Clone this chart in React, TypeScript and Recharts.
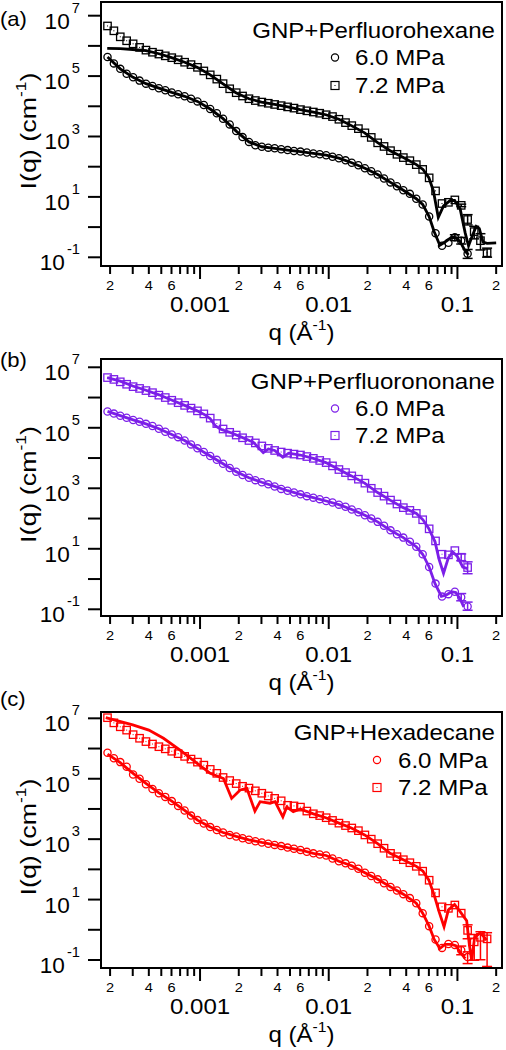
import type { ReactNode } from 'react';
import { ComposedChart, Scatter, Line, XAxis, YAxis, ErrorBar } from 'recharts';

type Pair = [number, number];

const FONT = '"Liberation Sans", Arial, Helvetica, sans-serif';
const BLACK = '#000000';
const PURPLE = '#7c1fe8';
const RED = '#ff0000';

const X_DOMAIN: Pair = [1.7e-4, 0.222];

// q grid of the measured points (1/Å)
const qGrid = [
  1.91e-4, 2.14e-4, 2.4e-4, 2.69e-4, 3.02e-4, 3.39e-4, 3.8e-4, 4.27e-4, 4.79e-4, 5.37e-4,
  6.03e-4, 6.76e-4, 7.59e-4, 8.51e-4, 9.55e-4, 1.07e-3, 1.2e-3, 1.35e-3, 1.51e-3, 1.7e-3,
  1.91e-3, 2.14e-3, 2.4e-3, 2.69e-3, 3.02e-3, 3.39e-3, 3.8e-3, 4.27e-3, 4.79e-3, 5.37e-3,
  6.03e-3, 6.76e-3, 7.59e-3, 8.51e-3, 9.55e-3, 0.0107, 0.012, 0.0135, 0.0151, 0.017,
  0.0191, 0.0214, 0.024, 0.0269, 0.0302, 0.0339, 0.038, 0.0427, 0.0479, 0.0537,
  0.0603, 0.0676, 0.0759, 0.0851, 0.0955, 0.107, 0.12, 0.135, 0.151, 0.17,
];

const xTicks = [
  2e-4, 3e-4, 4e-4, 5e-4, 6e-4, 7e-4, 8e-4, 9e-4, 1e-3,
  2e-3, 3e-3, 4e-3, 5e-3, 6e-3, 7e-3, 8e-3, 9e-3, 0.01,
  0.02, 0.03, 0.04, 0.05, 0.06, 0.07, 0.08, 0.09, 0.1, 0.2,
];
const xTickLabels = [
  '2', '', '4', '', '6', '', '', '', '0.001',
  '2', '', '4', '', '6', '', '', '', '0.01',
  '2', '', '4', '', '6', '', '', '', '0.1', '2',
];
const yTicks = [0.1, 1, 10, 100, 1e3, 1e4, 1e5, 1e6, 1e7];
const yTickExp = ['-1', '', '1', '', '3', '', '5', '', '7'];

// (a) GNP + perfluorohexane
const iA60 = [
  4.27e5, 2.63e5, 1.74e5, 1.2e5, 9.12e4, 7.08e4, 5.62e4, 4.68e4, 3.98e4, 3.39e4,
  2.88e4, 2.51e4, 2.14e4, 1.78e4, 1.45e4, 1.1e4, 8.13e3, 5.89e3, 3.89e3, 2.51e3,
  1.51e3, 955, 661, 513, 457, 427, 407, 380, 355, 331,
  316, 295, 275, 257, 240, 214, 191, 162, 135, 112,
  89.1, 70.8, 55.0, 40.7, 30.2, 22.4, 16.6, 12.6, 8.71, 5.62,
  2.24, 0.631, 0.24, 0.302, 0.457, 0.355, 0.132,
];
const errA60: Pair[] = [[0.1, 0.1], [0.08, 0.1], [0.04, 0.05]];
const iA72 = [
  4.57e6, 3.16e6, 2.0e6, 1.48e6, 1.17e6, 8.91e5, 7.24e5, 6.17e5, 5.37e5, 4.68e5,
  4.07e5, 3.47e5, 2.88e5, 2.4e5, 1.95e5, 1.48e5, 1.1e5, 7.94e4, 5.62e4, 3.8e4,
  2.82e4, 2.19e4, 1.78e4, 1.55e4, 1.38e4, 1.26e4, 1.15e4, 1.05e4, 9.55e3, 8.71e3,
  7.76e3, 7.08e3, 6.46e3, 5.89e3, 5.25e3, 4.57e3, 3.72e3, 2.88e3, 2.29e3, 1.82e3,
  1.32e3, 933, 617, 468, 339, 257, 200, 158, 117, 81.3,
  42.7, 15.8, 6.03, 6.61, 7.94, 5.25, 1.78, 0.708, 0.355, 0.141,
];
const errA72: Pair[] = [[0.5, 0.5], [0.6, 0.8], [0.3, 0.35], [0.18, 0.25], [0.04, 0.06]];
const fitA60: Pair[] = [
  [1.91e-4, 4.27e5], [2.4e-4, 1.74e5], [3.02e-4, 9.12e4], [3.8e-4, 5.62e4], [4.79e-4, 3.98e4],
  [6.03e-4, 2.88e4], [7.59e-4, 2.14e4], [9.55e-4, 1.45e4], [1.2e-3, 8.13e3], [1.51e-3, 3.89e3],
  [1.91e-3, 1.51e3], [2.4e-3, 661], [3.02e-3, 457], [3.8e-3, 407], [4.79e-3, 355],
  [6.03e-3, 316], [7.59e-3, 275], [9.55e-3, 240], [0.012, 191], [0.0151, 135],
  [0.0191, 89.1], [0.024, 55], [0.0302, 30.2], [0.038, 16.6], [0.0479, 8.71],
  [0.0537, 5.62], [0.0603, 2.24], [0.066, 0.7], [0.073, 0.25], [0.08, 0.32],
  [0.09, 0.46], [0.097, 0.45], [0.105, 0.33], [0.115, 0.16], [0.122, 0.12],
];
const fitA72: Pair[] = [
  [1.9e-4, 8.32e5], [2.4e-4, 8.13e5], [3.0e-4, 7.59e5], [3.8e-4, 6.92e5], [4.8e-4, 5.5e5],
  [6.0e-4, 4.07e5], [7.6e-4, 2.88e5], [9.5e-4, 1.95e5], [1.2e-3, 1.1e5], [1.5e-3, 5.62e4],
  [1.9e-3, 2.82e4], [2.4e-3, 1.78e4], [3.0e-3, 1.38e4], [3.8e-3, 1.15e4], [4.8e-3, 9.55e3],
  [6.0e-3, 7.76e3], [7.6e-3, 6.46e3], [9.5e-3, 5.25e3], [0.012, 3.72e3], [0.015, 2.29e3],
  [0.019, 1.32e3], [0.024, 630], [0.03, 339], [0.038, 200], [0.048, 117],
  [0.054, 81], [0.06, 43], [0.065, 16], [0.071, 2.1], [0.078, 5.0],
  [0.088, 7.6], [0.095, 7.6], [0.105, 4.0], [0.115, 0.63], [0.122, 0.24],
  [0.13, 0.5], [0.14, 1.05], [0.148, 0.89], [0.158, 0.32], [0.17, 0.29], [0.2, 0.3],
];

// (b) GNP + perfluorononane
const iB60 = [
  3.47e5, 2.95e5, 2.51e5, 2.14e5, 1.82e5, 1.58e5, 1.35e5, 1.15e5, 9.33e4, 7.41e4,
  6.03e4, 4.9e4, 3.8e4, 2.82e4, 2.09e4, 1.58e4, 1.17e4, 8.71e3, 6.46e3, 4.68e3,
  3.55e3, 2.75e3, 2.24e3, 1.86e3, 1.58e3, 1.35e3, 1.15e3, 955, 832, 724,
  631, 550, 490, 437, 380, 339, 288, 245, 200, 162,
  129, 100, 77.6, 57.5, 40.7, 30.2, 23.4, 17.0, 11.7, 6.61,
  2.51, 0.708, 0.263, 0.316, 0.38, 0.251, 0.123,
];
const errB60: Pair[] = [[0.06, 0.08], [0.03, 0.05]];
const iB72 = [
  4.57e6, 3.98e6, 3.31e6, 2.75e6, 2.29e6, 2.0e6, 1.7e6, 1.45e6, 1.2e6, 1.0e6,
  8.13e5, 6.76e5, 5.5e5, 4.47e5, 3.63e5, 2.88e5, 2.09e5, 1.38e5, 9.12e4, 7.08e4,
  5.75e4, 4.68e4, 3.8e4, 3.16e4, 2.51e4, 2.09e4, 1.78e4, 1.58e4, 1.45e4, 1.35e4,
  1.26e4, 1.12e4, 9.77e3, 8.32e3, 7.08e3, 5.5e3, 4.17e3, 3.31e3, 2.57e3, 2.0e3,
  1.48e3, 1.0e3, 724, 550, 407, 302, 229, 186, 148, 91.2,
  45.7, 18.2, 6.61, 6.31, 8.71, 5.25, 2.4,
];
const errB72: Pair[] = [[1.2, 1.5], [0.9, 1.3]];
const fitB60: Pair[] = [
  [1.91e-4, 3.47e5], [2.4e-4, 2.51e5], [3.02e-4, 1.82e5], [3.8e-4, 1.35e5], [4.79e-4, 9.33e4],
  [6.03e-4, 6.03e4], [7.59e-4, 3.8e4], [9.55e-4, 2.09e4], [1.2e-3, 1.17e4], [1.51e-3, 6.46e3],
  [1.91e-3, 3.55e3], [2.4e-3, 2.24e3], [3.02e-3, 1.58e3], [3.8e-3, 1.15e3], [4.79e-3, 832],
  [6.03e-3, 631], [7.59e-3, 490], [9.55e-3, 380], [0.012, 288], [0.0151, 200],
  [0.0191, 129], [0.024, 77.6], [0.0302, 40.7], [0.038, 23.4], [0.0479, 11.7],
  [0.0537, 6.61], [0.0603, 2.51], [0.067, 0.7], [0.075, 0.27], [0.082, 0.3],
  [0.09, 0.38], [0.097, 0.36], [0.105, 0.22], [0.112, 0.12],
];
const fitB72: Pair[] = [
  [1.9e-4, 4.57e6], [2.4e-4, 3.47e6], [3.0e-4, 2.4e6], [3.8e-4, 1.74e6], [4.8e-4, 1.23e6],
  [6.0e-4, 8.32e5], [7.6e-4, 5.5e5], [9.5e-4, 3.63e5], [1.1e-3, 2.63e5], [1.2e-3, 2.0e5],
  [1.32e-3, 1.15e5], [1.45e-3, 8.91e4], [1.7e-3, 7.08e4], [2.1e-3, 4.9e4], [2.6e-3, 3.31e4],
  [3.1e-3, 1.51e4], [3.4e-3, 2.0e4], [3.8e-3, 1.78e4], [4.4e-3, 1.07e4], [4.9e-3, 1.45e4],
  [6.0e-3, 1.26e4], [7.6e-3, 9.77e3], [9.5e-3, 7.08e3], [0.012, 4.17e3], [0.015, 2.57e3],
  [0.019, 1.48e3], [0.024, 724], [0.03, 407], [0.038, 229], [0.048, 148],
  [0.054, 91], [0.06, 46], [0.067, 17], [0.072, 4.5], [0.078, 1.55],
  [0.085, 5.0], [0.092, 7.9], [0.1, 5.5], [0.11, 2.5], [0.12, 2.2],
];

// (c) GNP + hexadecane
const iC60 = [
  7.24e5, 4.79e5, 3.55e5, 2.51e5, 1.38e5, 1.0e5, 6.61e4, 4.57e4, 3.31e4, 2.51e4,
  1.82e4, 1.26e4, 8.91e3, 6.03e3, 4.27e3, 3.31e3, 2.51e3, 2.0e3, 1.66e3, 1.38e3,
  1.23e3, 1.07e3, 955, 851, 776, 708, 646, 589, 525, 479,
  437, 380, 339, 309, 288, 229, 186, 158, 132, 105,
  77.6, 60.3, 46.8, 34.7, 26.3, 20.0, 15.1, 11.2, 7.59, 3.55,
  1.32, 0.479, 0.251, 0.339, 0.316, 0.209, 0.126,
];
const errC60: Pair[] = [[0.06, 0.08], [0.05, 0.06]];
const iC72 = [
  1.05e7, 7.08e6, 5.25e6, 4.07e6, 2.88e6, 2.19e6, 1.7e6, 1.41e6, 1.15e6, 9.77e5,
  8.13e5, 6.76e5, 5.5e5, 4.47e5, 3.55e5, 2.82e5, 2.04e5, 1.51e5, 1.1e5, 8.71e4,
  6.92e4, 5.62e4, 4.9e4, 3.98e4, 3.31e4, 2.69e4, 2.24e4, 1.86e4, 1.32e4, 1.26e4,
  1.15e4, 8.51e3, 6.92e3, 6.03e3, 5.13e3, 4.17e3, 3.39e3, 2.82e3, 2.34e3, 1.91e3,
  1.38e3, 1.0e3, 708, 501, 339, 263, 209, 166, 126, 87.1,
  43.7, 16.6, 5.75, 5.13, 6.61, 3.55, 0.955, 0.398, 0.562, 0.501,
];
const errC72: Pair[] = [[0.45, 0.5], [0.3, 0.3], [0.46, 0.3], [0.44, 0.3]];
const fitC60: Pair[] = [
  [1.91e-4, 6.5e5], [2.4e-4, 3.4e5], [3.02e-4, 1.5e5], [3.8e-4, 7.0e4], [4.79e-4, 3.4e4],
  [6.03e-4, 1.82e4], [7.59e-4, 8.91e3], [9.55e-4, 4.27e3], [1.2e-3, 2.51e3], [1.51e-3, 1.66e3],
  [1.91e-3, 1.23e3], [2.4e-3, 955], [3.02e-3, 776], [3.8e-3, 646], [4.79e-3, 525],
  [6.03e-3, 437], [7.59e-3, 339], [9.55e-3, 288], [0.012, 186], [0.0151, 132],
  [0.0191, 77.6], [0.024, 46.8], [0.0302, 26.3], [0.038, 15.1], [0.0479, 7.59],
  [0.0537, 3.55], [0.0603, 1.32], [0.066, 0.48], [0.073, 0.24], [0.08, 0.33],
  [0.09, 0.33], [0.097, 0.3], [0.105, 0.18], [0.115, 0.11],
];
const fitC72: Pair[] = [
  [1.85e-4, 1.05e7], [3.0e-4, 6.03e6], [4.0e-4, 4.07e6], [5.2e-4, 2.19e6], [7.0e-4, 8.91e5],
  [9.5e-4, 3.24e5], [1.2e-3, 1.51e5], [1.52e-3, 1.02e5], [1.76e-3, 2.24e4], [2.05e-3, 4.27e4],
  [2.31e-3, 4.79e4], [2.67e-3, 8.51e3], [2.93e-3, 1.74e4], [3.5e-3, 1.55e4], [3.83e-3, 1.74e4],
  [4.4e-3, 5.5e3], [4.72e-3, 1.17e4], [5.3e-3, 8.13e3], [6.0e-3, 1.0e4], [7.6e-3, 6.9e3],
  [9.5e-3, 5.1e3], [0.012, 3.4e3], [0.015, 2.34e3], [0.019, 1.38e3], [0.024, 708],
  [0.03, 339], [0.038, 209], [0.048, 126], [0.054, 87], [0.06, 44],
  [0.066, 14], [0.072, 4.0], [0.0787, 1.26], [0.085, 4.5], [0.095, 6.9],
  [0.105, 4.0], [0.118, 2.0], [0.124, 0.3], [0.129, 0.1], [0.136, 0.55],
  [0.15, 0.8], [0.16, 0.6], [0.168, 0.45],
];

function toPoints(values: number[], err: Pair[] = []) {
  const start = values.length - err.length;
  return values.map((I, i) => ({ q: qGrid[i], I, e: i >= start ? err[i - start] : undefined }));
}

function toLine(pairs: Pair[]) {
  return pairs.map(([q, I]) => ({ q, I }));
}

// the original figure's lettering is a little wider than Arial
function WideText(props: { x: number; y: number; size: number; anchor?: 'start' | 'middle' | 'end'; sx?: number; children: ReactNode }) {
  const { x, y, size, anchor = 'start', sx = 1.12, children } = props;
  return (
    <text
      transform={`translate(${x}, ${y}) scale(${sx}, 1)`}
      textAnchor={anchor}
      fontFamily={FONT}
      fontSize={size}
      fill={BLACK}
    >
      {children}
    </text>
  );
}

function XTick(props: any) {
  const { x, y, payload } = props;
  const i = xTicks.findIndex((t) => Math.abs(t - payload.value) < t * 1e-6);
  const label = xTickLabels[i] ?? '';
  const major = label.length > 1;
  return (
    <g>
      <line x1={x} x2={x} y1={y} y2={y + (major ? 13 : 8)} stroke={BLACK} strokeWidth={2} />
      {label !== '' &&
        (major ? (
          <WideText x={x} y={y + 46} size={21.5} anchor="middle">{label}</WideText>
        ) : (
          <WideText x={x} y={y + 24} size={13.5} anchor="middle" sx={1.08}>{label}</WideText>
        ))}
    </g>
  );
}

function YTick(props: any) {
  const { x, y, payload } = props;
  const i = yTicks.findIndex((t) => Math.abs(t - payload.value) < t * 1e-6);
  const exp = yTickExp[i] ?? '';
  return (
    <g>
      <line x1={x - 13} x2={x} y1={y} y2={y} stroke={BLACK} strokeWidth={2} />
      {exp !== '' && (
        <WideText x={x - 21} y={y + 13} size={21.5} anchor="end" sx={1.05}>
          10
          <tspan dx={2} dy={-16} fontSize={14}>
            {exp}
          </tspan>
        </WideText>
      )}
    </g>
  );
}

const circleShape = (color: string) => (p: any) =>
  <circle cx={p.cx} cy={p.cy} r={3.6} fill="none" stroke={color} strokeWidth={1.3} />;

const squareShape = (color: string) => (p: any) => (
  <g>
    <rect x={p.cx - 3.7} y={p.cy - 3.7} width={7.4} height={7.4} fill="none" stroke={color} strokeWidth={1.3} />
    <rect x={p.cx - 0.5} y={p.cy - 0.5} width={1} height={1} fill={color} />
  </g>
);

interface PanelProps {
  letter: string;
  title: string;
  color: string;
  top: number;
  height: number;
  marginTop: number;
  plotH: number;
  yDomain: Pair;
  low: number[];
  lowErr: Pair[];
  high: number[];
  highErr: Pair[];
  lowFit: Pair[];
  highFit: Pair[];
  letterY: number;
  titleY: number;
  row1Y: number;
  row2Y: number;
  markerX: number;
  textX: number;
}

function SansPanel(p: PanelProps) {
  const W = 506;
  const plotLeft = 101;
  const plotRight = 502;
  const xAxisH = p.height - p.marginTop - p.plotH;
  const plotMidY = p.marginTop + p.plotH / 2;

  return (
    <div style={{ position: 'absolute', left: 0, top: p.top, width: W, height: p.height }}>
      <ComposedChart
        width={W}
        height={p.height}
        margin={{ top: p.marginTop, right: W - plotRight, bottom: 0, left: 0 }}
      >
        <XAxis
          type="number"
          dataKey="q"
          scale="log"
          domain={X_DOMAIN}
          allowDataOverflow
          ticks={xTicks}
          interval={0}
          tick={XTick}
          tickLine={false}
          axisLine={false}
          tickSize={0}
          tickMargin={0}
          height={xAxisH}
          label={(lp: any) => {
            const vb = lp.viewBox ?? { x: plotLeft, y: p.marginTop + p.plotH, width: plotRight - plotLeft };
            return (
              <WideText x={vb.x + vb.width / 2} y={vb.y + 74} size={21.5} anchor="middle">
                q (Å
                <tspan dy={-10} fontSize={14}>-1</tspan>
                <tspan dy={10}>)</tspan>
              </WideText>
            );
          }}
        />
        <YAxis
          type="number"
          dataKey="I"
          scale="log"
          domain={p.yDomain}
          allowDataOverflow
          ticks={yTicks}
          interval={0}
          tick={YTick}
          tickLine={false}
          axisLine={false}
          tickSize={0}
          tickMargin={0}
          width={plotLeft}
          label={() => (
            <text
              transform={`translate(36, ${plotMidY - 3}) rotate(-90) scale(1.25, 1)`}
              textAnchor="middle"
              fontFamily={FONT}
              fontSize={21.5}
              fill={BLACK}
            >
              I(q) (cm
              <tspan dy={-10} fontSize={14}>-1</tspan>
              <tspan dy={10}>)</tspan>
            </text>
          )}
        />
        <Scatter data={toPoints(p.low, p.lowErr)} shape={circleShape(p.color)} isAnimationActive={false}>
          <ErrorBar dataKey="e" direction="y" width={5} stroke={p.color} strokeWidth={1.5} />
        </Scatter>
        <Scatter data={toPoints(p.high, p.highErr)} shape={squareShape(p.color)} isAnimationActive={false}>
          <ErrorBar dataKey="e" direction="y" width={5} stroke={p.color} strokeWidth={1.5} />
        </Scatter>
        <Line data={toLine(p.lowFit)} dataKey="I" type="linear" stroke={p.color} strokeWidth={2.8} dot={false} isAnimationActive={false} />
        <Line data={toLine(p.highFit)} dataKey="I" type="linear" stroke={p.color} strokeWidth={2.8} dot={false} isAnimationActive={false} />
      </ComposedChart>
      <svg
        width={W}
        height={p.height}
        style={{ position: 'absolute', left: 0, top: 0, pointerEvents: 'none', overflow: 'visible' }}
      >
        <rect
          x={plotLeft}
          y={p.marginTop}
          width={plotRight - plotLeft}
          height={p.plotH}
          fill="none"
          stroke={BLACK}
          strokeWidth={2}
        />
        <WideText x={0} y={p.letterY} size={21} sx={1.05}>{p.letter}</WideText>
        <WideText x={495} y={p.titleY} size={21.5} anchor="end">{p.title}</WideText>
        <circle cx={p.markerX} cy={p.row1Y - 7.5} r={3.6} fill="none" stroke={p.color} strokeWidth={1.2} />
        <WideText x={p.textX} y={p.row1Y} size={21.5}>6.0 MPa</WideText>
        <rect x={p.markerX - 4} y={p.row2Y - 11.5} width={8} height={8} fill="none" stroke={p.color} strokeWidth={1.2} />
        <rect x={p.markerX - 0.5} y={p.row2Y - 8} width={1} height={1} fill={p.color} />
        <WideText x={p.textX} y={p.row2Y} size={21.5}>7.2 MPa</WideText>
      </svg>
    </div>
  );
}

export default function App() {
  return (
    <div style={{ position: 'absolute', left: 0, top: 0, width: 506, height: 1050, background: '#fff' }}>
      <SansPanel
        letter="(a)"
        title="GNP+Perfluorohexane"
        color={BLACK}
        top={0}
        height={350}
        marginTop={2}
        plotH={264}
        yDomain={[0.0515, 2.84e7]}
        low={iA60}
        lowErr={errA60}
        high={iA72}
        highErr={errA72}
        lowFit={fitA60}
        highFit={fitA72}
        letterY={26}
        titleY={37.5}
        row1Y={65}
        row2Y={93}
        markerX={335}
        textX={355}
      />
      <SansPanel
        letter="(b)"
        title="GNP+Perfluorononane"
        color={PURPLE}
        top={345}
        height={360}
        marginTop={14}
        plotH={257}
        yDomain={[0.06, 1.88e7]}
        low={iB60}
        lowErr={errB60}
        high={iB72}
        highErr={errB72}
        lowFit={fitB60}
        highFit={fitB72}
        letterY={21.5}
        titleY={44}
        row1Y={71}
        row2Y={98}
        markerX={335}
        textX={355}
      />
      <SansPanel
        letter="(c)"
        title="GNP+Hexadecane"
        color={RED}
        top={690}
        height={360}
        marginTop={22}
        plotH={256}
        yDomain={[0.0543, 1.62e7]}
        low={iC60}
        lowErr={errC60}
        high={iC72}
        highErr={errC72}
        lowFit={fitC60}
        highFit={fitC72}
        letterY={16}
        titleY={50}
        row1Y={77.5}
        row2Y={105}
        markerX={377}
        textX={398}
      />
    </div>
  );
}
